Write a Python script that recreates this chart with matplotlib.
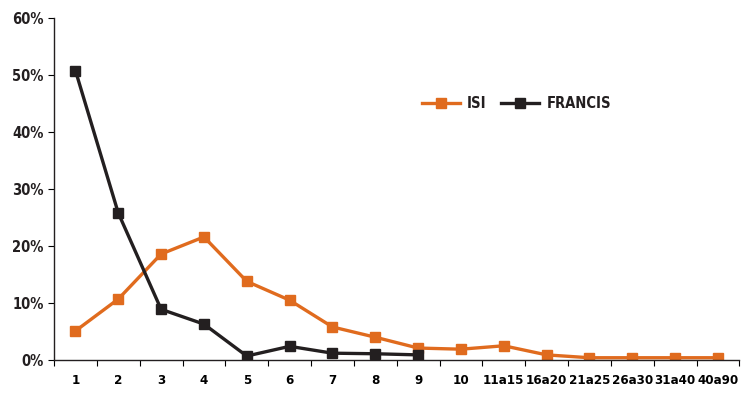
import matplotlib
matplotlib.use("Agg")
import matplotlib.pyplot as plt
from matplotlib.ticker import FuncFormatter

# categories and values (percent)
categories = ['1', '2', '3', '4', '5', '6', '7', '8', '9', '10',
              '11a15', '16a20', '21a25', '26a30', '31a40', '40a90']
isi = [5.1, 10.7, 18.6, 21.6, 13.8, 10.5, 5.8, 4.0, 2.1, 1.9,
       2.5, 0.9, 0.4, 0.4, 0.4, 0.4]
francis = [50.8, 25.8, 8.9, 6.3, 0.7, 2.4, 1.2, 1.1, 0.9]

orange = '#E06B1E'
dark = '#231F20'

# narrow lettering like the original
plt.rcParams['font.family'] = ['DejaVu Sans']
plt.rcParams['font.stretch'] = 'condensed'
plt.rcParams['font.weight'] = 'bold'

fig = plt.figure(figsize=(7.45, 4.08), dpi=100)
ax = fig.add_axes([0.0725, 0.1176, 0.92, 0.838])

x = list(range(len(categories)))
ax.plot(x, isi, color=orange, lw=2.4, marker='s', ms=6.5, label='ISI')
ax.plot(x[:len(francis)], francis, color=dark, lw=2.4, marker='s', ms=6.5,
        label='FRANCIS')

ax.set_xlim(-0.5, len(categories) - 0.5)
ax.set_ylim(0, 60)
ax.set_yticks(range(0, 61, 10))
ax.yaxis.set_major_formatter(FuncFormatter(lambda v, p: '%d%%' % v))

# ticks between categories, labels centred
ax.set_xticks([i - 0.5 for i in range(len(categories) + 1)])
ax.set_xticklabels([])
ax.set_xticks(x, minor=True)
ax.set_xticklabels(categories, minor=True)
ax.tick_params(axis='x', which='minor', length=0, pad=10, labelsize=9.5)
ax.tick_params(axis='x', which='major', length=4, width=0.8, direction='out')
ax.tick_params(axis='y', length=4, width=0.8, direction='out', labelsize=10.5)
ax.tick_params(labelcolor=dark)

for side in ['top', 'right']:
    ax.spines[side].set_visible(False)
for side in ['left', 'bottom']:
    ax.spines[side].set_color(dark)
    ax.spines[side].set_linewidth(1.0)

leg = ax.legend(loc='center', bbox_to_anchor=(0.675, 0.75), ncol=2, frameon=False,
                prop={'size': 10.5}, handlelength=2.6,
                columnspacing=1.0, handletextpad=0.5)
for t in leg.get_texts():
    t.set_color(dark)

fig.savefig('out.png', dpi=100)
